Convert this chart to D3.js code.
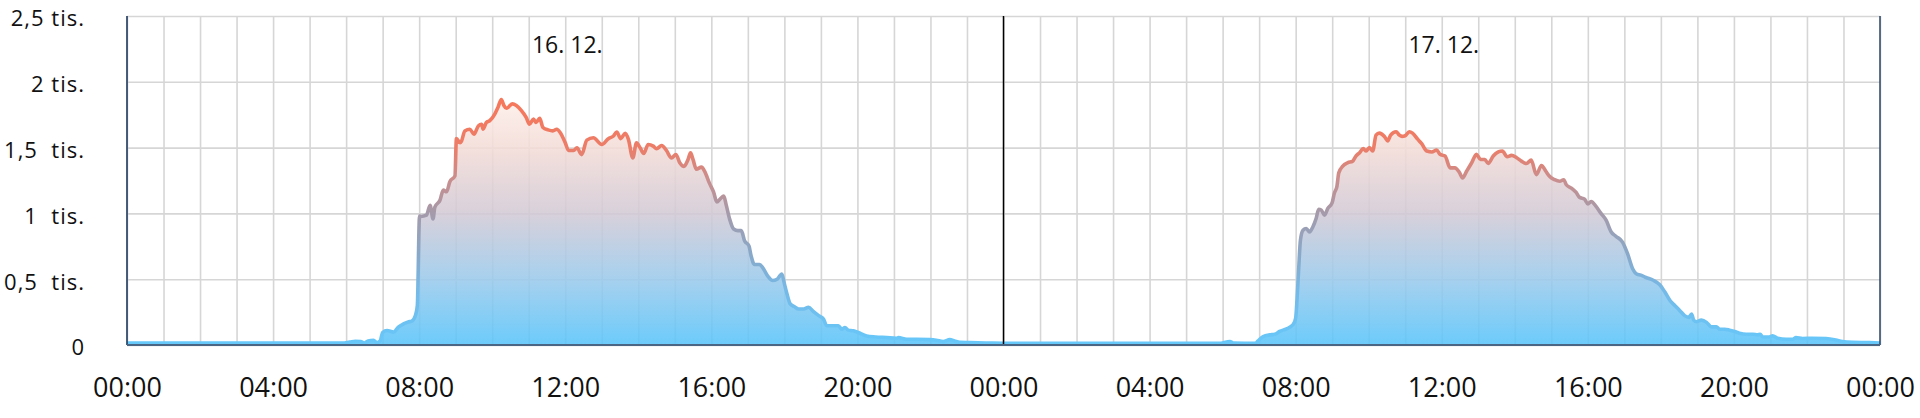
<!DOCTYPE html>
<html><head><meta charset="utf-8">
<script src="https://cdn.jsdelivr.net/npm/d3@7"></script>
<style>
html,body{margin:0;padding:0;background:#fff;}
svg{display:block;}
text{font-family:"Open Sans","Noto Sans",sans-serif;fill:#111;}
</style></head>
<body>
<svg id="chart" width="1920" height="418"></svg>
<script>
// ---- data ----
const dayLabels = ["16. 12.", "17. 12."];
const xTickHours = [0,4,8,12,16,20,24,28,32,36,40,44,48];
const xTickLabels = ["00:00","04:00","08:00","12:00","16:00","20:00","00:00","04:00","08:00","12:00","16:00","20:00","00:00"];
const yTickValues = [0,500,1000,1500,2000,2500];
const yTickLabels = ["0","0,5  tis.","1  tis.","1,5  tis.","2 tis.","2,5 tis."];

// day 1 (16. 12.) : hour of day, value
const day1Hours = [0,1,2,3,4,5,5.9,6.1,6.25,6.4,6.5,6.6,6.75,6.85,6.93,7.0,7.12,7.3,7.43,7.57,7.7,7.8,7.9,7.95,8.01,8.05,8.2,8.3,8.38,8.43,8.57,8.66,8.75,8.84,8.98,9.02,9.12,9.16,9.25,9.39,9.5,9.62,9.71,9.75,9.84,9.93,10.07,10.16,10.25,10.32,10.39,10.55,10.66,10.8,10.93,11.02,11.13,11.2,11.3,11.39,11.53,11.66,11.77,11.86,12.0,12.09,12.23,12.32,12.45,12.59,12.77,13.0,13.18,13.32,13.41,13.52,13.64,13.73,13.85,13.95,14.05,14.15,14.27,14.41,14.5,14.64,14.77,14.91,15.03,15.14,15.25,15.36,15.43,15.5,15.59,15.73,15.82,15.95,16.06,16.15,16.25,16.34,16.41,16.5,16.61,16.73,16.82,16.91,17.03,17.09,17.18,17.32,17.41,17.55,17.68,17.8,17.93,18.0,18.07,18.16,18.27,18.39,18.53,18.66,18.8,18.94,19.07,19.16,19.3,19.48,19.57,19.66,19.75,19.89,20.02,20.25,20.5,20.8,21.07,21.12,21.35,21.62,21.98,22.16,22.35,22.53,22.66,22.8,23.07,23.5,24];
const day1Values = [15,15,14,14,14,14,14,22,28,26,15,30,35,18,30,95,110,98,136,160,175,182,226,300,980,977,987,1061,958,1048,1100,1177,1164,1241,1285,1568,1537,1550,1627,1640,1601,1665,1678,1640,1691,1704,1755,1807,1866,1820,1799,1832,1820,1781,1730,1678,1717,1691,1722,1653,1635,1627,1640,1615,1537,1478,1478,1498,1447,1557,1575,1524,1568,1588,1619,1568,1609,1563,1421,1537,1498,1455,1524,1511,1491,1516,1478,1421,1447,1383,1357,1408,1460,1408,1336,1352,1318,1228,1164,1087,1113,1131,1061,958,881,869,869,792,753,676,612,612,586,522,490,500,540,466,389,312,292,274,274,287,253,223,197,146,146,146,120,133,113,108,95,69,61,56,51,56,44,44,41,36,26,41,31,20,18,15,13];

// day 2 (17. 12.) : hour of day, value
const day2Hours = [0,1,2,3,4,5,5.9,6.2,6.3,6.9,6.97,7.11,7.3,7.43,7.56,7.75,7.93,8.0,8.04,8.08,8.13,8.2,8.29,8.38,8.47,8.56,8.63,8.7,8.79,8.88,9.0,9.06,9.13,9.18,9.29,9.43,9.56,9.65,9.75,9.85,9.93,10.02,10.11,10.2,10.29,10.43,10.52,10.6,10.75,10.84,10.91,11.0,11.11,11.2,11.34,11.45,11.59,11.73,11.86,11.95,12.09,12.23,12.36,12.48,12.57,12.68,12.82,12.95,13.06,13.18,13.27,13.41,13.55,13.66,13.79,13.91,14.05,14.18,14.32,14.45,14.59,14.73,14.85,14.95,15.09,15.23,15.34,15.41,15.55,15.68,15.77,15.91,16.0,16.09,16.23,16.36,16.5,16.64,16.77,16.95,17.09,17.23,17.34,17.45,17.59,17.79,17.97,18.11,18.25,18.38,18.52,18.65,18.77,18.84,18.9,18.97,19.11,19.25,19.38,19.52,19.61,19.75,19.88,20.02,20.15,20.34,20.52,20.65,20.72,20.79,20.97,21.06,21.2,21.43,21.61,21.7,21.88,22.15,22.52,22.79,22.97,23.25,23.7,24];
const day2Values = [13,12,12,12,12,12,12,26,14,12,31,64,77,82,103,123,154,205,359,564,795,872,885,859,897,961,1031,1026,987,1038,1082,1154,1205,1308,1359,1385,1397,1436,1461,1492,1474,1500,1474,1595,1610,1585,1551,1595,1620,1595,1585,1590,1620,1610,1564,1530,1474,1467,1482,1449,1436,1346,1346,1313,1269,1320,1385,1449,1410,1410,1379,1436,1467,1474,1431,1441,1423,1397,1379,1405,1295,1364,1320,1282,1256,1244,1256,1218,1192,1159,1123,1108,1072,1090,1051,1000,949,859,826,782,692,577,538,531,513,492,458,402,338,300,261,223,210,236,189,177,189,172,138,138,120,120,113,102,90,82,82,77,82,61,61,69,51,44,44,56,49,51,49,38,26,20,18,15];

// ---- chart ----
const W = 1920, H = 418;
const m = {left:127, right:40, top:16, bottom:73};
const svg = d3.select("#chart");
const x = d3.scaleLinear().domain([0,48]).range([m.left, W - m.right]);
const y = d3.scaleLinear().domain([0,2500]).range([H - m.bottom, m.top]);

const series = day1Hours.map((h,i)=>({t:h, v:day1Values[i]}))
  .concat(day2Hours.map((h,i)=>({t:h+24, v:day2Values[i]})));

const defs = svg.append("defs");
const fillGrad = defs.append("linearGradient").attr("id","fillGrad")
  .attr("gradientUnits","userSpaceOnUse").attr("x1",0).attr("x2",0)
  .attr("y1",y(1900)).attr("y2",y(0));
[[0,"#fff1ec"],[0.21,"#f3dcd7"],[0.47,"#d3cad5"],[0.74,"#9acaec"],[1,"#58c4fa"]]
  .forEach(([o,c])=>fillGrad.append("stop").attr("offset",o).attr("stop-color",c));
const lineGrad = defs.append("linearGradient").attr("id","lineGrad")
  .attr("gradientUnits","userSpaceOnUse").attr("x1",0).attr("x2",0)
  .attr("y1",y(1900)).attr("y2",y(0));
[[0,"#f7775a"],[0.21,"#ec7d68"],[0.34,"#c98e8e"],[0.47,"#a59aaa"],[0.63,"#8aa8c8"],[0.79,"#74bae8"],[1,"#66c8fa"]]
  .forEach(([o,c])=>lineGrad.append("stop").attr("offset",o).attr("stop-color",c));

// grid
const gx = svg.append("g").attr("transform",`translate(0,${H-m.bottom})`)
  .call(d3.axisBottom(x).tickValues(d3.range(0,49,1)).tickSize(-(H-m.top-m.bottom)).tickFormat(""));
gx.select(".domain").remove();
gx.selectAll("line").attr("stroke","#d6d6d6").attr("stroke-width",1.6);
const gy = svg.append("g").attr("transform",`translate(${m.left},0)`)
  .call(d3.axisLeft(y).tickValues(yTickValues).tickSize(-(W-m.left-m.right)).tickFormat(""));
gy.select(".domain").remove();
gy.selectAll("line").attr("stroke","#d6d6d6").attr("stroke-width",1.6);

// area + line
const area = d3.area().x(d=>x(d.t)).y0(y(0)).y1(d=>y(d.v)).curve(d3.curveMonotoneX);
const line = d3.line().x(d=>x(d.t)).y(d=>y(d.v)).curve(d3.curveMonotoneX);
svg.append("path").datum(series).attr("d",area).attr("fill","url(#fillGrad)").attr("fill-opacity",0.88);
svg.append("path").datum(series).attr("d",line).attr("fill","none")
  .attr("stroke","url(#lineGrad)").attr("stroke-width",3.6).attr("stroke-linejoin","round");

// midnight separator
svg.append("line").attr("x1",x(24)).attr("x2",x(24)).attr("y1",y(2500)).attr("y2",y(0))
  .attr("stroke","#000").attr("stroke-width",1.5);

// borders
svg.append("line").attr("x1",m.left).attr("x2",m.left).attr("y1",y(2500)).attr("y2",y(0))
  .attr("stroke","#1d3a5e").attr("stroke-width",1.6);
svg.append("line").attr("x1",x(48)).attr("x2",x(48)).attr("y1",y(2500)).attr("y2",y(0))
  .attr("stroke","#1d3a5e").attr("stroke-width",1.4);
svg.append("line").attr("x1",m.left).attr("x2",x(48)).attr("y1",y(0)).attr("y2",y(0))
  .attr("stroke","#4b6684").attr("stroke-width",2);

// x labels
const ax = svg.append("g").attr("transform",`translate(0,${H-m.bottom})`)
  .call(d3.axisBottom(x).tickValues(xTickHours).tickSize(0).tickPadding(0)
    .tickFormat((d,i)=>xTickLabels[i]));
ax.select(".domain").remove();
ax.selectAll("text").attr("y",52).attr("dy",null).style("font-size","27px")
  .style("font-family",'"Open Sans","Noto Sans",sans-serif').attr("fill","#111");

// y labels
const ay = svg.append("g").attr("transform",`translate(85,0)`)
  .call(d3.axisLeft(y).tickValues(yTickValues).tickSize(0).tickPadding(0)
    .tickFormat((d,i)=>yTickLabels[i]));
ay.select(".domain").remove();
ay.selectAll("text").attr("x",0).attr("dy","0.45em").style("font-size","22px")
  .style("letter-spacing","1px").style("white-space","pre")
  .style("font-family",'"Open Sans","Noto Sans",sans-serif').attr("fill","#111");

// day labels
svg.selectAll(".day").data(dayLabels).join("text").attr("class","day")
  .attr("x",(d,i)=>x(12+24*i)+2).attr("y",52.5).attr("text-anchor","middle")
  .style("font-size","23px").style("white-space","pre").text(d=>d);
</script>
</body></html>
